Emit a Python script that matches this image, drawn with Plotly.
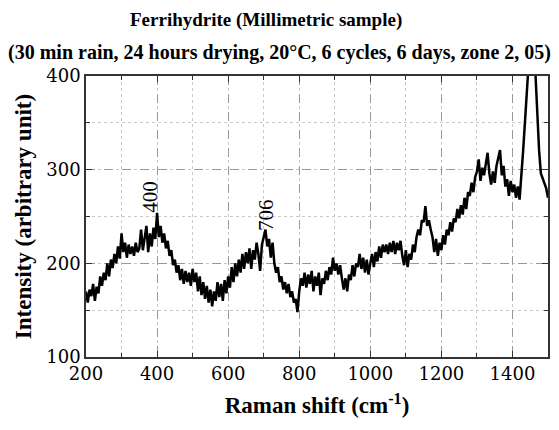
import plotly.graph_objects as go

raman_shift = [
    200, 205, 210, 215, 220, 225, 230, 235, 240, 245, 250, 255, 260, 265, 270, 275, 280, 285, 290, 295,
    300, 305, 310, 315, 320, 325, 330, 335, 340, 345, 350, 355, 360, 365, 370, 375, 380, 385, 390, 395,
    400, 405, 410, 415, 420, 425, 430, 435, 440, 445, 450, 455, 460, 465, 470, 475, 480, 485, 490, 495,
    500, 505, 510, 515, 520, 525, 530, 535, 540, 545, 550, 555, 560, 565, 570, 575, 580, 585, 590, 595,
    600, 605, 610, 615, 620, 625, 630, 635, 640, 645, 650, 655, 660, 665, 670, 675, 680, 685, 690, 695,
    700, 705, 710, 715, 720, 725, 730, 735, 740, 745, 750, 755, 760, 765, 770, 775, 780, 785, 790, 795,
    800, 805, 810, 815, 820, 825, 830, 835, 840, 845, 850, 855, 860, 865, 870, 875, 880, 885, 890, 895,
    900, 905, 910, 915, 920, 925, 930, 935, 940, 945, 950, 955, 960, 965, 970, 975, 980, 985, 990, 995,
    1000, 1005, 1010, 1015, 1020, 1025, 1030, 1035, 1040, 1045, 1050, 1055, 1060, 1065, 1070, 1075, 1080, 1085, 1090, 1095,
    1100, 1105, 1110, 1115, 1120, 1125, 1130, 1135, 1140, 1145, 1150, 1155, 1160, 1165, 1170, 1175, 1180, 1185, 1190, 1195,
    1200, 1205, 1210, 1215, 1220, 1225, 1230, 1235, 1240, 1245, 1250, 1255, 1260, 1265, 1270, 1275, 1280, 1285, 1290, 1295,
    1300, 1305, 1310, 1315, 1320, 1325, 1330, 1335, 1340, 1345, 1350, 1355, 1360, 1365, 1370, 1375, 1380, 1385, 1390, 1395,
    1400, 1405, 1410, 1415, 1420, 1425, 1430, 1435, 1440, 1445, 1450, 1455, 1460, 1465, 1470, 1475, 1480, 1485, 1490, 1495, 1500,
]

intensity = [
    170, 158, 172, 165, 178, 160, 175, 168, 186, 176, 190, 182, 200, 186, 204, 195, 210, 200, 218, 205,
    232, 212, 222, 206, 220, 210, 218, 208, 222, 212, 216, 236, 214, 228, 240, 212, 232, 218, 238, 226,
    254, 228, 240, 222, 232, 216, 224, 208, 214, 198, 204, 190, 198, 182, 194, 178, 192, 180, 190, 176,
    194, 180, 190, 170, 186, 166, 180, 162, 176, 158, 172, 154, 170, 160, 180, 164, 178, 160, 182, 168,
    186, 174, 196, 180, 200, 186, 204, 190, 210, 194, 212, 200, 216, 194, 214, 204, 222, 210, 192, 220,
    228, 236, 218, 226, 206, 222, 200, 190, 196, 180, 186, 172, 180, 168, 178, 164, 170, 158, 162, 148,
    170, 184, 176, 190, 174, 188, 178, 192, 170, 186, 176, 190, 166, 184, 178, 192, 182, 196, 188, 206,
    192, 200, 188, 198, 184, 172, 184, 170, 188, 182, 198, 186, 200, 196, 210, 194, 206, 190, 204, 188,
    200, 210, 196, 212, 202, 218, 206, 220, 212, 220, 210, 222, 212, 224, 210, 222, 214, 224, 208, 198,
    214, 196, 210, 204, 220, 212, 228, 236, 230, 246, 244, 261, 240, 246, 236, 228, 212, 226, 208, 222,
    214, 230, 220, 236, 230, 244, 234, 248, 244, 258, 248, 262, 252, 270, 258, 276, 272, 286, 276, 292,
    298, 311, 288, 302, 294, 304, 318, 296, 284, 298, 286, 304, 312, 321, 294, 304, 282, 290, 272, 288,
    276, 284, 270, 282, 268, 300, 320, 350, 385, 420, 460, 470, 440, 400, 350, 320, 296, 290, 286, 280, 270,
]

peak_labels = ["400", "706"]
peak_label_x = [380, 705]
peak_label_y = [271, 252]

title_lines = [
    "Ferrihydrite (Millimetric sample)",
    "(30 min rain, 24 hours drying, 20°C, 6 cycles, 6 days, zone 2, 05)",
]

x_ticks = [200, 400, 600, 800, 1000, 1200, 1400]
y_ticks = [100, 200, 300, 400]

serif = "Liberation Serif"
tick_serif = "DejaVu Serif"

fig = go.Figure()
fig.add_trace(go.Scatter(
    x=raman_shift, y=intensity, mode="lines",
    line=dict(color="black", width=2.5),
    showlegend=False, hoverinfo="skip",
))

for t, xx, yy in zip(peak_labels, peak_label_x, peak_label_y):
    fig.add_annotation(x=xx, y=yy, text=t, showarrow=False, textangle=-90,
                       font=dict(family=serif, size=21, color="black"),
                       xref="x", yref="y")

fig.add_annotation(text="<b>" + title_lines[0] + "</b>",
                   x=(267 - 86) / 464, y=1.0, xref="paper", yref="paper", yanchor="middle",
                   yshift=56, showarrow=False,
                   font=dict(family=serif, size=19, color="black"))
fig.add_annotation(text="<b>" + title_lines[1] + "</b>",
                   x=(280 - 86) / 464, y=1.0, xref="paper", yref="paper", yanchor="middle",
                   yshift=24, showarrow=False,
                   font=dict(family=serif, size=20, color="black"))

fig.update_layout(
    width=559, height=430,
    margin=dict(l=86, r=9, t=76, b=73),
    paper_bgcolor="white", plot_bgcolor="white",
    font=dict(family=serif, color="black"),
)

fig.update_xaxes(
    range=[200, 1500], tickvals=x_ticks, ticktext=[str(v) for v in x_ticks],
    showline=True, linecolor="#333", linewidth=1.5, mirror="allticks",
    ticks="inside", ticklen=6, tickcolor="#333",
    showgrid=True, gridcolor="#999", griddash="dash", gridwidth=1,
    minor=dict(dtick=100, tick0=200, ticks="inside", ticklen=4, tickcolor="#333",
               showgrid=True, gridcolor="#c8c8c8", griddash="dot", gridwidth=1),
    tickfont=dict(family=tick_serif, size=18, color="black"),
    title=dict(text="<b>Raman shift (cm<sup>-1</sup>)</b>", font=dict(family=serif, size=23, color="black"), standoff=14),
    zeroline=False,
)
fig.update_yaxes(
    range=[100, 400], tickvals=y_ticks, ticktext=[str(v) for v in y_ticks],
    showline=True, linecolor="#333", linewidth=1.5, mirror="allticks",
    ticks="inside", ticklen=6, tickcolor="#333",
    showgrid=True, gridcolor="#999", griddash="dash", gridwidth=1,
    minor=dict(dtick=50, tick0=100, ticks="inside", ticklen=4, tickcolor="#333",
               showgrid=True, gridcolor="#c8c8c8", griddash="dot", gridwidth=1),
    tickfont=dict(family=tick_serif, size=18, color="black"),
    title=dict(text="<b>Intensity (arbitrary unit)</b>", font=dict(family=serif, size=23, color="black"), standoff=8),
    zeroline=False,
)

fig.write_html("out.html", config={"displayModeBar": False},
               post_script="document.body.style.margin='0';")
